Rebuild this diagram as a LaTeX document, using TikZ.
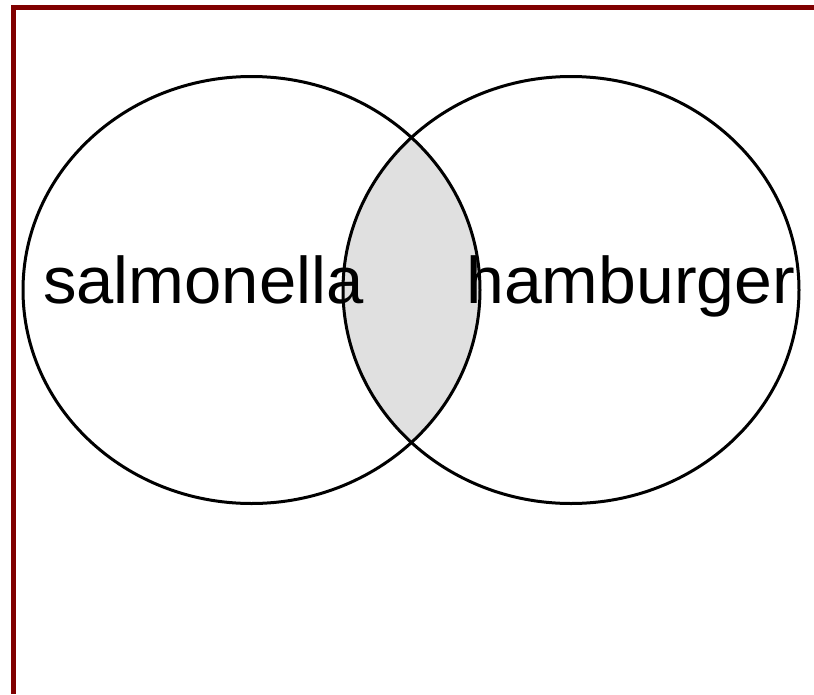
\documentclass[tikz,border=0pt]{standalone}
\usepackage{fontspec}
\setmainfont{Liberation Sans}
\begin{document}
\begin{tikzpicture}[x=1pt,y=-1pt,
  setcircle/.style={draw=black,line width=3pt},
  setlabel/.style={font=\fontsize{66}{70}\selectfont,anchor=base west,inner sep=0pt}]
\useasboundingbox (0,0) rectangle (814,694);
\fill[white] (0,0) rectangle (814,694);
% frame
\fill[fill={rgb,255:red,128;green,0;blue,0}] (11,5) rectangle (814,9.5);
\fill[fill={rgb,255:red,128;green,0;blue,0}] (11,5) rectangle (16,694);
% lens
\begin{scope}
  \clip (251.5,290) ellipse [x radius=228.5, y radius=213.5];
  \fill[fill={rgb,255:red,224;green,224;blue,224}] (571,290) ellipse [x radius=228, y radius=213.5];
\end{scope}
\node[setlabel] (s) at (43,303) {\scalebox{1.015}[1]{salmonella}};
\node[setlabel] (h) at (466,303) {\scalebox{1.03}[1]{hamburger}};
\draw[setcircle] (251.5,290) ellipse [x radius=228.5, y radius=213.5];
\draw[setcircle] (571,290) ellipse [x radius=228, y radius=213.5];
\end{tikzpicture}
\end{document}
